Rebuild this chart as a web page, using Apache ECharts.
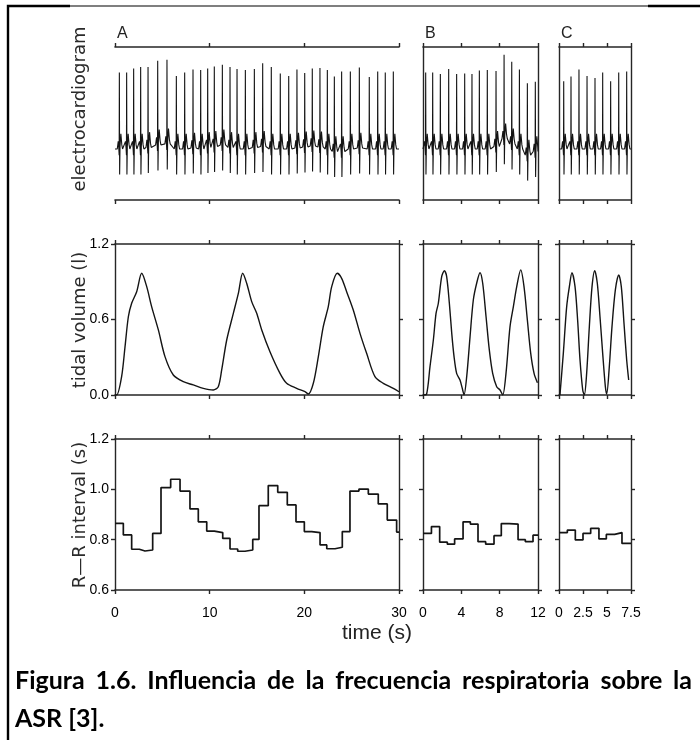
<!DOCTYPE html>
<html>
<head>
<meta charset="utf-8">
<script src="https://cdn.jsdelivr.net/npm/echarts@6/dist/echarts.min.js"></script>
<style>
  html, body { margin: 0; padding: 0; background: #fff; }
  #chart { width: 700px; height: 740px; }
</style>
</head>
<body>
<div id="chart"></div>
<script>
// ---- data ----
// ECG: R-peak times (s), R amplitude and baseline per beat (arbitrary units)
const beatsA = [0.46, 1.23, 1.97, 2.71, 3.49, 4.51, 5.49, 6.48, 7.36, 8.24, 9.05, 9.79, 10.49, 11.34, 12.15, 12.89, 13.77, 14.72, 15.60, 16.51, 17.46, 18.35, 19.22, 20.04, 20.84, 21.65, 22.43, 23.17, 23.94, 24.86, 25.81, 26.86, 27.75, 28.55, 29.40];
const rPeakA = [1.50, 1.50, 1.58, 1.61, 1.58, 1.65, 1.65, 1.43, 1.50, 1.54, 1.55, 1.55, 1.57, 1.57, 1.58, 1.57, 1.55, 1.54, 1.63, 1.61, 1.48, 1.43, 1.54, 1.45, 1.52, 1.55, 1.55, 1.47, 1.57, 1.52, 1.58, 1.41, 1.52, 1.50, 1.52];
const baseA = [0, 0, 0, 0, 0.03, 0.08, 0.1, 0, 0, 0.02, 0, 0.03, 0.05, 0.08, 0.03, 0, 0, 0.03, 0.05, 0, 0, 0, 0.02, 0.04, 0.06, 0.04, 0, -0.05, -0.05, 0, 0.02, 0, 0, 0, 0];
const beatsB = [0.28, 1.01, 1.81, 2.68, 3.51, 4.35, 5.11, 5.88, 6.71, 7.62, 8.46, 9.26, 10.06, 10.89, 11.72];
const rPeakB = [1.50, 1.50, 1.47, 1.57, 1.47, 1.48, 1.47, 1.54, 1.55, 1.48, 1.65, 1.61, 1.56, 1.41, 1.37];
const baseB = [0, 0, 0, 0, 0, 0, 0, 0, 0, 0.05, 0.2, 0.1, 0, -0.12, -0.05];
const beatsC = [0.49, 1.25, 2.08, 2.92, 3.75, 4.55, 5.38, 6.22, 7.05];
const rPeakC = [1.33, 1.42, 1.56, 1.43, 1.39, 1.50, 1.33, 1.50, 1.52];
const baseC = [0, 0, 0, 0, 0, 0, 0, 0, 0];
// shape of one beat around the R peak (offset s, amplitude); index 4 is the R peak
const ecgShapeDt = [-0.22, -0.12, -0.06, -0.02, 0, 0.03, 0.07, 0.16, 0.26, 0.34];
const ecgShapeV = [0, 0.15, 0.02, -0.12, 1, -0.5, 0.05, 0.3, 0.08, 0];

// tidal volume (l)
const tidalA_t = [0, 0.18, 0.70, 1.06, 1.41, 1.76, 2.29, 2.82, 3.35, 3.87, 4.58, 5.28, 6.16, 7.22, 8.27, 9.33, 10.38, 10.91, 11.27, 11.80, 12.50, 13.03, 13.49, 13.91, 14.44, 14.97, 15.50, 16.37, 17.43, 18.13, 19.19, 20.07, 20.42, 20.95, 21.48, 22.00, 22.53, 22.89, 23.48, 23.94, 24.47, 25.17, 25.88, 26.58, 27.46, 28.34, 29.40, 30.0];
const tidalA_v = [0, 0, 0.146, 0.384, 0.622, 0.729, 0.821, 0.967, 0.861, 0.702, 0.517, 0.305, 0.159, 0.106, 0.08, 0.053, 0.04, 0.066, 0.199, 0.437, 0.649, 0.808, 0.967, 0.888, 0.742, 0.649, 0.517, 0.344, 0.172, 0.093, 0.053, 0.026, 0.008, 0.093, 0.305, 0.543, 0.702, 0.861, 0.967, 0.927, 0.821, 0.676, 0.490, 0.331, 0.146, 0.093, 0.053, 0.026];
const tidalB_t = [0.03, 0.38, 0.73, 1.08, 1.36, 1.60, 1.95, 2.23, 2.47, 2.75, 3.00, 3.24, 3.51, 3.86, 4.14, 4.28, 4.56, 4.91, 5.25, 5.60, 5.95, 6.23, 6.58, 6.92, 7.27, 7.69, 8.04, 8.32, 8.66, 9.08, 9.43, 9.78, 10.20, 10.54, 10.89, 11.24, 11.59, 11.94];
const tidalB_v = [0, 0.008, 0.225, 0.437, 0.649, 0.729, 0.941, 0.988, 0.941, 0.729, 0.490, 0.305, 0.172, 0.119, 0.04, 0, 0.146, 0.464, 0.755, 0.888, 0.972, 0.888, 0.622, 0.358, 0.172, 0.066, 0.04, 0, 0.172, 0.543, 0.702, 0.861, 0.994, 0.861, 0.596, 0.331, 0.172, 0.098];
const tidalC_t = [0.10, 0.45, 0.80, 1.08, 1.35, 1.67, 1.94, 2.19, 2.47, 2.64, 2.88, 3.16, 3.44, 3.72, 3.99, 4.27, 4.55, 4.83, 4.97, 5.24, 5.52, 5.87, 6.22, 6.49, 6.77, 7.05, 7.26];
const tidalC_v = [0, 0.331, 0.702, 0.861, 0.972, 0.861, 0.596, 0.278, 0.04, 0, 0.172, 0.543, 0.861, 0.988, 0.888, 0.622, 0.331, 0.066, 0.008, 0.225, 0.543, 0.835, 0.954, 0.861, 0.570, 0.278, 0.119];

// R-R interval (s), one step per beat: start time, value
const rrA_t = [0, 0.88, 1.76, 2.57, 3.17, 3.98, 4.86, 5.88, 6.87, 7.92, 8.80, 9.69, 10.49, 11.38, 12.15, 12.96, 13.73, 14.55, 15.21, 16.19, 17.19, 18.20, 19.12, 20.00, 20.78, 21.66, 22.37, 23.24, 24.01, 24.82, 25.77, 26.76, 27.81, 28.76, 29.75];
const rrA_v = [0.865, 0.819, 0.762, 0.755, 0.759, 0.825, 1.007, 1.04, 0.993, 0.922, 0.871, 0.834, 0.828, 0.805, 0.763, 0.754, 0.759, 0.801, 0.935, 1.015, 0.988, 0.938, 0.871, 0.832, 0.828, 0.779, 0.764, 0.770, 0.832, 0.993, 1.001, 0.981, 0.942, 0.878, 0.83];
const rrB_t = [0, 0.88, 1.74, 2.54, 3.30, 4.18, 4.94, 5.74, 6.54, 7.41, 8.17, 8.98, 9.92, 10.68, 11.48];
const rrB_v = [0.825, 0.852, 0.790, 0.782, 0.803, 0.871, 0.862, 0.792, 0.782, 0.816, 0.864, 0.862, 0.800, 0.792, 0.818];
const rrC_t = [0, 0.87, 1.70, 2.50, 3.30, 4.16, 4.93, 5.80, 6.56];
const rrC_v = [0.828, 0.838, 0.799, 0.825, 0.845, 0.803, 0.821, 0.828, 0.785];

// axes
const panelNames = ['A', 'B', 'C'];
const xMax = [30, 12, 7.5];
const xStep = [10, 4, 2.5];
const rowNames = ['electrocardiogram', 'tidal volume (l)', 'R\u2014R interval (s)'];
const yMin = [-1, 0, 0.6];
const yMax = [2, 1.2, 1.2];
const yStep = [1, 0.6, 0.2];
const caption1 = ['Figura', '1.6.', 'Influencia', 'de', 'la', 'frecuencia', 'respiratoria', 'sobre', 'la'];
const caption2 = 'ASR [3].';

// ---- layout ----
const colLeft = [115, 423, 559];
const colWidth = [284, 115, 72];
const rowTop = [47, 244, 439];
const rowHeight = [153, 151, 151];
const INK = '#141414';
const AXIS = '#262626';
const NUM_FONT = '"Liberation Sans Narrow", "Liberation Sans", sans-serif';

const zip = (ts, vs) => ts.map((t, i) => [t, vs[i]]);

function ecgData(beats, peaks, base, tMax) {
  const pts = [[0, base[0]]];
  beats.forEach((b, i) => {
    ecgShapeDt.forEach((dt, j) => {
      const t = b + dt;
      if (t <= 0 || t >= tMax) return;
      pts.push([t, base[i] + (j === 4 ? peaks[i] : ecgShapeV[j])]);
    });
  });
  pts.push([tMax, base[base.length - 1]]);
  return pts;
}

function stepData(ts, vs, tMax) {
  const pts = zip(ts, vs);
  pts.push([tMax, vs[vs.length - 1]]);
  return pts;
}

const seriesData = [
  [ecgData(beatsA, rPeakA, baseA, 30), ecgData(beatsB, rPeakB, baseB, 12), ecgData(beatsC, rPeakC, baseC, 7.5)],
  [zip(tidalA_t, tidalA_v), zip(tidalB_t, tidalB_v), zip(tidalC_t, tidalC_v)],
  [stepData(rrA_t, rrA_v, 30), stepData(rrB_t, rrB_v, 12), stepData(rrC_t, rrC_v, 7.5)],
];

const grids = [];
const xAxes = [];
const yAxes = [];
const series = [];

for (let row = 0; row < 3; row++) {
  for (let col = 0; col < 3; col++) {
    const g = grids.length;
    grids.push({left: colLeft[col], top: rowTop[row], width: colWidth[col], height: rowHeight[row], show: false});
    ['bottom', 'top'].forEach(pos => {
      xAxes.push({
        type: 'value', gridIndex: g, position: pos,
        min: 0, max: xMax[col], interval: xStep[col],
        axisLine: {show: true, onZero: false, lineStyle: {color: AXIS, width: 1.6}},
        axisTick: {show: true, inside: false, length: 4, lineStyle: {color: AXIS, width: 1.4}},
        axisLabel: {
          show: row === 2 && pos === 'bottom', margin: 16,
          fontFamily: NUM_FONT, fontSize: 14, color: '#000',
        },
        splitLine: {show: false},
      });
    });
    ['left', 'right'].forEach(pos => {
      yAxes.push({
        type: 'value', gridIndex: g, position: pos,
        min: yMin[row], max: yMax[row], interval: yStep[row],
        axisLine: {show: !(row === 0 && col === 0), onZero: false, lineStyle: {color: AXIS, width: 1.4}},
        axisTick: {show: row > 0, inside: false, length: 4, lineStyle: {color: AXIS, width: 1.4}},
        axisLabel: {
          show: row > 0 && col === 0 && pos === 'left', margin: 6,
          fontFamily: NUM_FONT, fontSize: 14, color: '#000',
          formatter: v => v.toFixed(1),
        },
        splitLine: {show: false},
      });
    });
    series.push({
      type: 'line',
      xAxisIndex: 2 * g,
      yAxisIndex: 2 * g,
      data: seriesData[row][col],
      step: row === 2 ? 'end' : false,
      symbol: 'none',
      smooth: row === 1 ? 0.3 : false,
      lineStyle: {color: INK, width: row === 0 ? 1.1 : (row === 1 ? 1.4 : 1.7)},
      silent: true,
    });
  }
}

// ---- text & frame ----
const graphics = [];
// scanned page frame
graphics.push({type: 'polyline', shape: {points: [[8, 740], [8, 6], [70, 6]]}, style: {stroke: '#000', lineWidth: 2.4, fill: null}});
graphics.push({type: 'line', shape: {x1: 70, y1: 6, x2: 648, y2: 6}, style: {stroke: '#000', lineWidth: 1.2}});
graphics.push({type: 'line', shape: {x1: 648, y1: 6, x2: 700, y2: 6}, style: {stroke: '#000', lineWidth: 2.4}});

panelNames.forEach((name, col) => {
  graphics.push({
    type: 'text', x: colLeft[col] + 2, y: 34,
    style: {text: name, font: '300 16px "Liberation Sans Narrow", sans-serif', fill: '#222', textVerticalAlign: 'middle'},
  });
});
const nameCenter = [109, 320, 515];
rowNames.forEach((name, row) => {
  graphics.push({
    type: 'text', x: 80, y: nameCenter[row], rotation: Math.PI / 2,
    style: {text: name, font: '18px "DejaVu Sans", sans-serif', fill: '#2a2a2a', textAlign: 'center', textVerticalAlign: 'middle'},
  });
});
graphics.push({
  type: 'text', x: 377, y: 633,
  style: {text: 'time (s)', font: '21px "Liberation Sans", sans-serif', fill: '#222', textAlign: 'center', textVerticalAlign: 'middle'},
});

// caption, first line justified between the page margins
const capFont = 'bold 25px Lato, sans-serif';
const measure = document.createElement('canvas').getContext('2d');
measure.font = capFont;
const capLeft = 15, capRight = 692;
const wordW = caption1.map(w => measure.measureText(w).width);
const gap = (capRight - capLeft - wordW.reduce((a, b) => a + b, 0)) / (caption1.length - 1);
let cx = capLeft;
caption1.forEach((w, i) => {
  graphics.push({type: 'text', x: cx, y: 681, style: {text: w, font: capFont, fill: '#000', textVerticalAlign: 'middle'}});
  cx += wordW[i] + gap;
});
graphics.push({type: 'text', x: capLeft, y: 719, style: {text: caption2, font: capFont, fill: '#000', textVerticalAlign: 'middle'}});

const chart = echarts.init(document.getElementById('chart'));
chart.setOption({
  animation: false,
  backgroundColor: '#fff',
  grid: grids,
  xAxis: xAxes,
  yAxis: yAxes,
  series: series,
  graphic: graphics,
});
</script>
</body>
</html>
